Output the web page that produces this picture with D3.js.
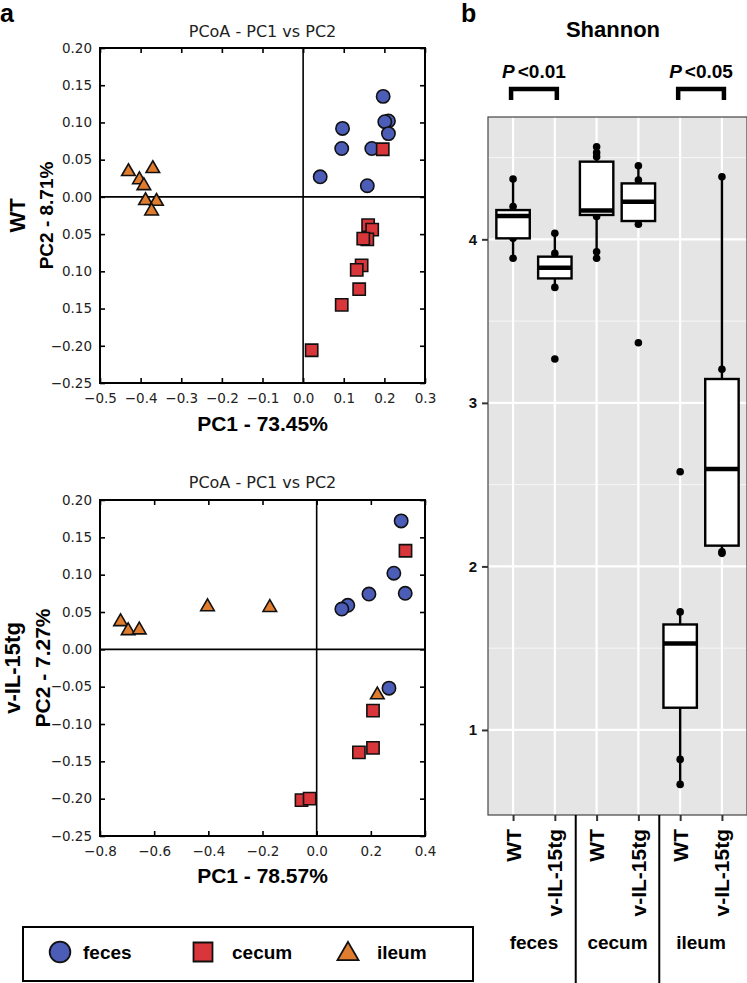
<!DOCTYPE html>
<html><head><meta charset="utf-8">
<script src="https://cdn.jsdelivr.net/npm/d3@7"></script>
<style>body{margin:0;background:#fff} svg{display:block}</style>
</head><body><svg id="c" width="747" height="983"></svg>
<script>
// ---------- DATA ----------
// Panel a, WT PCoA: [PC1, PC2]
const wtFeces = [[0.197,0.135],[0.210,0.102],[0.201,0.101],[0.210,0.085],[0.097,0.092],[0.095,0.065],[0.169,0.065],[0.042,0.027],[0.158,0.015]];
const wtCecum = [[0.196,0.064],[0.160,-0.038],[0.170,-0.044],[0.158,-0.057],[0.148,-0.056],[0.144,-0.092],[0.132,-0.098],[0.138,-0.124],[0.095,-0.145],[0.021,-0.206]];
const wtIleum = [[-0.430,0.034],[-0.403,0.023],[-0.392,0.015],[-0.370,0.038],[-0.388,-0.005],[-0.361,-0.006],[-0.373,-0.019]];
// Panel a, v-IL-15tg PCoA
const tgFeces = [[0.312,0.172],[0.285,0.102],[0.327,0.075],[0.193,0.074],[0.115,0.059],[0.093,0.054],[0.267,-0.052]];
const tgCecum = [[0.328,0.132],[0.208,-0.082],[0.208,-0.132],[0.156,-0.138],[-0.056,-0.202],[-0.026,-0.200]];
const tgIleum = [[-0.724,0.037],[-0.696,0.025],[-0.655,0.026],[-0.403,0.057],[-0.173,0.056],[0.224,-0.061]];

const wtXTicks = [-0.5,-0.4,-0.3,-0.2,-0.1,0.0,0.1,0.2,0.3];
const wtXLabels = ["\u22120.5","\u22120.4","\u22120.3","\u22120.2","\u22120.1","0.0","0.1","0.2","0.3"];
const yTicks = [0.20,0.15,0.10,0.05,0.00,-0.05,-0.10,-0.15,-0.20,-0.25];
const wtYLabels = ["0.20","0.15","0.10","0.05","0.00","0.05","0.10","0.15","\u22120.20","\u22120.25"];
const tgXTicks = [-0.8,-0.6,-0.4,-0.2,0.0,0.2,0.4];
const tgXLabels = ["\u22120.8","\u22120.6","\u22120.4","\u22120.2","0.0","0.2","0.4"];
const tgYLabels = ["0.20","0.15","0.10","0.05","0.00","\u22120.05","\u22120.10","\u22120.15","\u22120.20","\u22120.25"];

const sampleTypes = ["feces","cecum","ileum"];

// Panel b, Shannon boxplots
const boxGroups = ["feces","cecum","ileum"];
const boxLabels = ["WT","v-IL-15tg","WT","v-IL-15tg","WT","v-IL-15tg"];
const boxQ1 = [4.006,3.761,4.149,4.112,1.136,2.127];
const boxMedian = [4.142,3.826,4.176,4.230,1.529,2.595];
const boxQ3 = [4.179,3.894,4.475,4.342,1.645,3.146];
const whiskerLow = [3.884,3.706,3.884,4.092,0.667,2.080];
const whiskerHigh = [4.369,4.037,4.566,4.450,1.722,4.383];
const boxPoints = [[4.369,4.200,4.006,3.884],[4.037,3.914,3.706,3.268],[4.566,4.530,4.505,4.140,3.924,3.884],[4.450,4.363,4.092,3.368],[2.579,1.722,0.820,0.667],[4.383,3.205,2.090,2.080]];
const boxYTicks = [1,2,3,4];
const boxYMinor = [1.5,2.5,3.5,4.5];
const pvalues = ["<0.01","<0.05"];

// ---------- STYLE ----------
const colors = {feces:"#4b5db6", cecum:"#d8363a", ileum:"#e07c2e"};
const mplFont = "'DejaVu Sans', sans-serif";
const boldFont = "'Liberation Sans', Arial, sans-serif";

const svg = d3.select("#c");

// panel letters
svg.append("text").attr("x",0).attr("y",22).text("a")
  .attr("font-family",boldFont).attr("font-weight","bold").attr("font-size",25);
svg.append("text").attr("x",461).attr("y",22).text("b")
  .attr("font-family",boldFont).attr("font-weight","bold").attr("font-size",25);

function symbolFor(t, scale){
  const s = scale||1;
  if(t==="feces") return d3.symbol().type(d3.symbolCircle).size(140*s)();
  if(t==="cecum") return d3.symbol().type(d3.symbolSquare).size(150*s)();
  return d3.symbol().type(d3.symbolTriangle).size(80*s)();
}

function scatter(cfg){
  const {left,top,right,bottom,xDom,yDom,xTicks,xLabels,yLabels,sets,title,titleY,xTitle,xTitleY,yTitle,yTitleX,yTitleSize,group,groupX} = cfg;
  const x = d3.scaleLinear().domain(xDom).range([left,right]);
  const y = d3.scaleLinear().domain(yDom).range([bottom,top]);
  const g = svg.append("g");

  g.append("text").attr("x",(left+right)/2).attr("y",titleY).attr("text-anchor","middle")
    .attr("font-family",mplFont).attr("font-size",16).attr("fill","#222").text(title);

  g.append("line").attr("x1",x(0)).attr("x2",x(0)).attr("y1",top).attr("y2",bottom).attr("stroke","#000").attr("stroke-width",1.6);
  g.append("line").attr("x1",left).attr("x2",right).attr("y1",y(0)).attr("y2",y(0)).attr("stroke","#000").attr("stroke-width",1.6);

  const styleAxis = sel => {
    sel.select(".domain").remove();
    sel.selectAll(".tick line").attr("stroke","#000").attr("stroke-width",1.6);
    sel.selectAll(".tick text").attr("font-family",mplFont).attr("font-size",13.5).attr("fill","#222");
  };
  g.append("g").attr("transform",`translate(0,${bottom})`)
    .call(d3.axisBottom(x).tickValues(xTicks).tickFormat((d,i)=>xLabels[i]).tickSize(-5).tickPadding(10)).call(styleAxis);
  g.append("g").attr("transform",`translate(0,${top})`)
    .call(d3.axisTop(x).tickValues(xTicks).tickFormat("").tickSize(-5)).call(styleAxis);
  g.append("g").attr("transform",`translate(${left},0)`)
    .call(d3.axisLeft(y).tickValues(yTicks).tickFormat((d,i)=>yLabels[i]).tickSize(-5).tickPadding(8)).call(styleAxis);
  g.append("g").attr("transform",`translate(${right},0)`)
    .call(d3.axisRight(y).tickValues(yTicks).tickFormat("").tickSize(-5)).call(styleAxis);

  sets.forEach((pts,k)=>{
    const t = sampleTypes[k];
    g.append("g").selectAll("path").data(pts).join("path")
      .attr("d",symbolFor(t))
      .attr("transform",d=>`translate(${x(d[0])},${y(d[1])})`)
      .attr("fill",colors[t]).attr("stroke","#111").attr("stroke-width",1.6);
  });

  g.append("rect").attr("x",left).attr("y",top).attr("width",right-left).attr("height",bottom-top)
    .attr("fill","none").attr("stroke","#000").attr("stroke-width",2);

  g.append("text").attr("x",(left+right)/2).attr("y",xTitleY).attr("text-anchor","middle")
    .attr("font-family",boldFont).attr("font-weight","bold").attr("font-size",21).text(xTitle);
  const cy = (top+bottom)/2;
  g.append("text").attr("transform",`translate(${yTitleX},${cy}) rotate(-90)`).attr("text-anchor","middle")
    .attr("font-family",boldFont).attr("font-weight","bold").attr("font-size",yTitleSize).text(yTitle);
  g.append("text").attr("transform",`translate(${groupX},${cy}) rotate(-90)`).attr("text-anchor","middle")
    .attr("font-family",boldFont).attr("font-weight","bold").attr("font-size",22).text(group);
}

scatter({left:100,top:48,right:425,bottom:383,xDom:[-0.5,0.3],yDom:[-0.25,0.20],
  xTicks:wtXTicks,xLabels:wtXLabels,yLabels:wtYLabels,sets:[wtFeces,wtCecum,wtIleum],
  title:"PCoA - PC1 vs PC2",titleY:37,xTitle:"PC1 - 73.45%",xTitleY:431,
  yTitle:"PC2 - 8.71%",yTitleX:53,yTitleSize:19,group:"WT",groupX:25});

scatter({left:100,top:500,right:425,bottom:836,xDom:[-0.8,0.4],yDom:[-0.25,0.20],
  xTicks:tgXTicks,xLabels:tgXLabels,yLabels:tgYLabels,sets:[tgFeces,tgCecum,tgIleum],
  title:"PCoA - PC1 vs PC2",titleY:488,xTitle:"PC1 - 78.57%",xTitleY:883,
  yTitle:"PC2 - 7.27%",yTitleX:50,yTitleSize:21,group:"v-IL-15tg",groupX:20});

// legend
const lg = svg.append("g");
lg.append("rect").attr("x",23).attr("y",927).attr("width",450).attr("height",54)
  .attr("fill","#fff").attr("stroke","#000").attr("stroke-width",2);
const legX = [60,203,348];
sampleTypes.forEach((t,i)=>{
  lg.append("path").attr("d",symbolFor(t,2.4)).attr("transform",`translate(${legX[i]},${t==="ileum"?954:952})`)
    .attr("fill",colors[t]).attr("stroke","#111").attr("stroke-width",1.8);
  lg.append("text").attr("x",legX[i]+23+(t==="feces"?0:6)).attr("y",959).text(t)
    .attr("font-family",boldFont).attr("font-weight","bold").attr("font-size",19);
});

// ---------- PANEL b ----------
const bx = {left:488,right:747,top:117,bottom:815};
const xb = d3.scaleLinear().domain([0.4,6.6]).range([bx.left,bx.right]);
const yb = d3.scaleLinear().domain([0.48,4.748]).range([bx.bottom,bx.top]);
const pb = svg.append("g");
pb.append("rect").attr("x",bx.left).attr("y",bx.top).attr("width",bx.right-bx.left).attr("height",bx.bottom-bx.top)
  .attr("fill","#e5e5e5");
pb.selectAll(".ymin").data(boxYMinor).join("line")
  .attr("x1",bx.left).attr("x2",bx.right).attr("y1",d=>yb(d)).attr("y2",d=>yb(d))
  .attr("stroke","#f7f7f7").attr("stroke-width",1);
pb.selectAll(".ymaj").data(boxYTicks).join("line")
  .attr("x1",bx.left).attr("x2",bx.right).attr("y1",d=>yb(d)).attr("y2",d=>yb(d))
  .attr("stroke","#fff").attr("stroke-width",2.2);
pb.selectAll(".xmaj").data(boxLabels).join("line")
  .attr("x1",(d,i)=>xb(i+1)).attr("x2",(d,i)=>xb(i+1)).attr("y1",bx.top).attr("y2",bx.bottom)
  .attr("stroke","#fff").attr("stroke-width",2.2);

const halfW = 0.4;
boxLabels.forEach((lab,i)=>{
  const cx = xb(i+1);
  pb.append("g").selectAll("circle").data(boxPoints[i]).join("circle")
    .attr("cx",cx).attr("cy",d=>yb(d)).attr("r",3.8).attr("fill","#000");
  pb.append("line").attr("x1",cx).attr("x2",cx).attr("y1",yb(whiskerHigh[i])).attr("y2",yb(boxQ3[i]))
    .attr("stroke","#000").attr("stroke-width",2.4);
  pb.append("line").attr("x1",cx).attr("x2",cx).attr("y1",yb(boxQ1[i])).attr("y2",yb(whiskerLow[i]))
    .attr("stroke","#000").attr("stroke-width",2.4);
  pb.append("rect").attr("x",xb(i+1-halfW)).attr("width",xb(i+1+halfW)-xb(i+1-halfW))
    .attr("y",yb(boxQ3[i])).attr("height",yb(boxQ1[i])-yb(boxQ3[i]))
    .attr("fill","#fff").attr("stroke","#000").attr("stroke-width",2.4);
  pb.append("line").attr("x1",xb(i+1-halfW)).attr("x2",xb(i+1+halfW)).attr("y1",yb(boxMedian[i])).attr("y2",yb(boxMedian[i]))
    .attr("stroke","#000").attr("stroke-width",4.5);
});
pb.append("rect").attr("x",bx.left).attr("y",bx.top).attr("width",bx.right-bx.left).attr("height",bx.bottom-bx.top)
  .attr("fill","none").attr("stroke","#444").attr("stroke-width",1.2);

const yAx = pb.append("g").attr("transform",`translate(${bx.left},0)`)
  .call(d3.axisLeft(yb).tickValues(boxYTicks).tickFormat(d3.format("d")).tickSize(6).tickPadding(5));
yAx.select(".domain").remove();
yAx.selectAll(".tick line").attr("stroke","#333").attr("stroke-width",2);
yAx.selectAll(".tick text").attr("font-family",boldFont).attr("font-weight","bold").attr("font-size",15).attr("fill","#111");

const xAx = pb.append("g").attr("transform",`translate(0,${bx.bottom})`)
  .call(d3.axisBottom(xb).tickValues(d3.range(1,7)).tickFormat("").tickSize(6));
xAx.select(".domain").remove();
xAx.selectAll(".tick line").attr("stroke","#333").attr("stroke-width",2);
pb.selectAll(".xlab").data(boxLabels).join("text")
  .attr("transform",(d,i)=>`translate(${xb(i+1)},${bx.bottom+14}) rotate(-90)`)
  .attr("text-anchor","end").attr("dy","0.36em")
  .attr("font-family",boldFont).attr("font-weight","bold").attr("font-size",21).text(d=>d);

boxGroups.forEach((gname,k)=>{
  pb.append("text").attr("x",xb(2*k+1.5)).attr("y",949).attr("text-anchor","middle")
    .attr("font-family",boldFont).attr("font-weight","bold").attr("font-size",19).text(gname);
});
[2.5,4.5].forEach(v=>{
  pb.append("line").attr("x1",xb(v)).attr("x2",xb(v)).attr("y1",bx.bottom).attr("y2",983)
    .attr("stroke","#000").attr("stroke-width",2);
});

pb.append("text").attr("x",613).attr("y",37).attr("text-anchor","middle")
  .attr("font-family",boldFont).attr("font-weight","bold").attr("font-size",22).text("Shannon");

[[1,2],[5,6]].forEach((pair,k)=>{
  const x1 = xb(pair[0])-2, x2 = xb(pair[1])+2, yTop = bx.top-28, yLeg = bx.top-17;
  pb.append("path").attr("d",`M${x1},${yLeg}V${yTop}H${x2}V${yLeg}`)
    .attr("fill","none").attr("stroke","#000").attr("stroke-width",4.5).attr("stroke-linejoin","miter");
  const t = pb.append("text").attr("x",(x1+x2)/2).attr("y",78).attr("text-anchor","middle")
    .attr("font-family",boldFont).attr("font-weight","bold").attr("font-size",19);
  t.append("tspan").attr("font-style","italic").text("P");
  t.append("tspan").attr("dx",3).text(pvalues[k]);
});
</script></body></html>
